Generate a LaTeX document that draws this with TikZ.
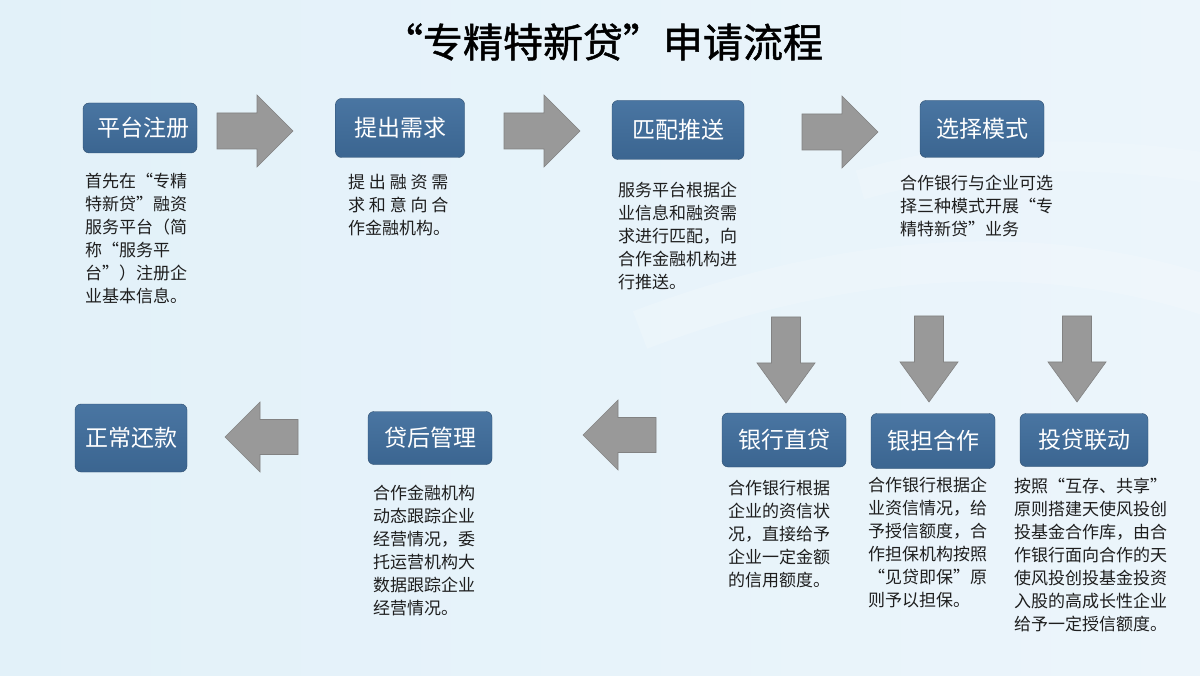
\documentclass[tikz,border=0pt]{standalone}
\usepackage{fontspec}
\setmainfont{Noto Sans CJK SC}
\newfontfamily\titlefont[FakeBold=1.2]{Noto Sans CJK SC}
\usetikzlibrary{calc}

\definecolor{boxblue}{RGB}{64,110,157}
\definecolor{arrowgray}{RGB}{153,153,153}
\definecolor{bgblue}{RGB}{226,241,249}
\definecolor{bglight}{RGB}{236,245,251}
\definecolor{desctext}{RGB}{30,30,30}

\tikzset{
  stepbox/.style={rounded corners=6pt, top color=boxblue!95!white, bottom color=boxblue!92!black,
    draw=boxblue!70!black, text=white, inner sep=0pt, font=\fontsize{23}{26}\selectfont},
  desc/.style={anchor=north west, align=left, inner sep=0pt, text=desctext,
    font=\fontsize{17}{23}\selectfont},
  arrowfill/.style={fill=arrowgray, draw=arrowgray!85!black, line width=0.6pt},
  rarrow/.pic={\path[arrowfill] (-38,-18) -- (2,-18) -- (2,-36) -- (38,0)
    -- (2,36) -- (2,18) -- (-38,18) -- cycle;},
  darrow/.pic={\path[arrowfill] (-14.5,-43) -- (14.5,-43) -- (14.5,3) -- (29,3)
    -- (0,43) -- (-29,3) -- (-14.5,3) -- cycle;},
  larrow/.pic={\path[arrowfill] (36.5,-17.5) -- (-1.5,-17.5) -- (-1.5,-35)
    -- (-36.5,0) -- (-1.5,35) -- (-1.5,17.5) -- (36.5,17.5) -- cycle;},
}

\begin{document}
\begin{tikzpicture}[x=1pt,y=-1pt]
  \useasboundingbox (0,0) rectangle (1200,676);
  \begin{scope}
    \clip (0,0) rectangle (1200,676);
    \shade[left color=bgblue, right color=bglight] (0,0) rectangle (1200,676);
    % faint light band on the right
    \draw[white, opacity=0.18, line width=40pt] (640,330) .. controls (850,250) and (1050,240) .. (1220,300);
    \draw[white, opacity=0.15, line width=30pt] (860,185) .. controls (980,150) and (1100,150) .. (1220,170);
  \end{scope}

  % title
  \node (title) at (603,42) {\titlefont\fontsize{40}{44}\selectfont “专精特新贷”申请流程};

  % upper row
  \node[stepbox, minimum width=114pt, minimum height=50pt] (reg) at (140,128) {\hspace{6pt}平台注册};
  \node[stepbox, minimum width=129pt, minimum height=59pt] (need) at (400,128) {提出需求};
  \node[stepbox, minimum width=132pt, minimum height=59pt] (match) at (678,130) {匹配推送};
  \node[stepbox, minimum width=124pt, minimum height=57pt] (mode) at (982,129) {选择模式};

  \node[desc] (regtxt) at (85,173) {首先在“专精\\特新贷”融资\\服务平台（简\\称“服务平\\台”）注册企\\业基本信息。};
  \node[desc] (needtxt) at (348,174) {提\ 出\ 融\ 资\ 需\\求\ 和\ 意\ 向\ 合\\作金融机构。};
  \node[desc] (matchtxt) at (618,182) {服务平台根据企\\业信息和融资需\\求进行匹配，向\\合作金融机构进\\行推送。};
  \node[desc] (modetxt) at (900,175) {合作银行与企业可选\\择三种模式开展“专\\精特新贷”业务};

  \pic at (255,131) {rarrow};
  \pic at (542,131) {rarrow};
  \pic at (840,132) {rarrow};

  % three modes
  \pic at (786,360) {darrow};
  \pic at (929,359) {darrow};
  \pic at (1077,359) {darrow};

  \node[stepbox, minimum width=124pt, minimum height=54pt] (bank) at (784,440) {银行直贷};
  \node[stepbox, minimum width=124pt, minimum height=55pt] (guar) at (933,441) {银担合作};
  \node[stepbox, minimum width=128pt, minimum height=53pt] (invest) at (1084,440) {投贷联动};

  \node[desc] (banktxt) at (728,480) {合作银行根据\\企业的资信状\\况，直接给予\\企业一定金额\\的信用额度。};
  \node[desc] (guartxt) at (868,477) {合作银行根据企\\业资信情况，给\\予授信额度，合\\作担保机构按照\\“见贷即保”原\\则予以担保。};
  \node[desc] (investtxt) at (1014,478) {按照“互存、共享”\\原则搭建天使风投创\\投基金合作库，由合\\作银行面向合作的天\\使风投创投基金投资\\入股的高成长性企业\\给予一定授信额度。};

  % lower row
  \pic at (619.5,435) {larrow};
  \node[stepbox, minimum width=124pt, minimum height=53pt] (after) at (430,438) {贷后管理};
  \node[desc] (aftertxt) at (373,485) {合作金融机构\\动态跟踪企业\\经营情况，委\\托运营机构大\\数据跟踪企业\\经营情况。};
  \pic at (261.5,437) {larrow};
  \node[stepbox, minimum width=112pt, minimum height=68pt] (repay) at (131,438) {正常还款};
\end{tikzpicture}
\end{document}
